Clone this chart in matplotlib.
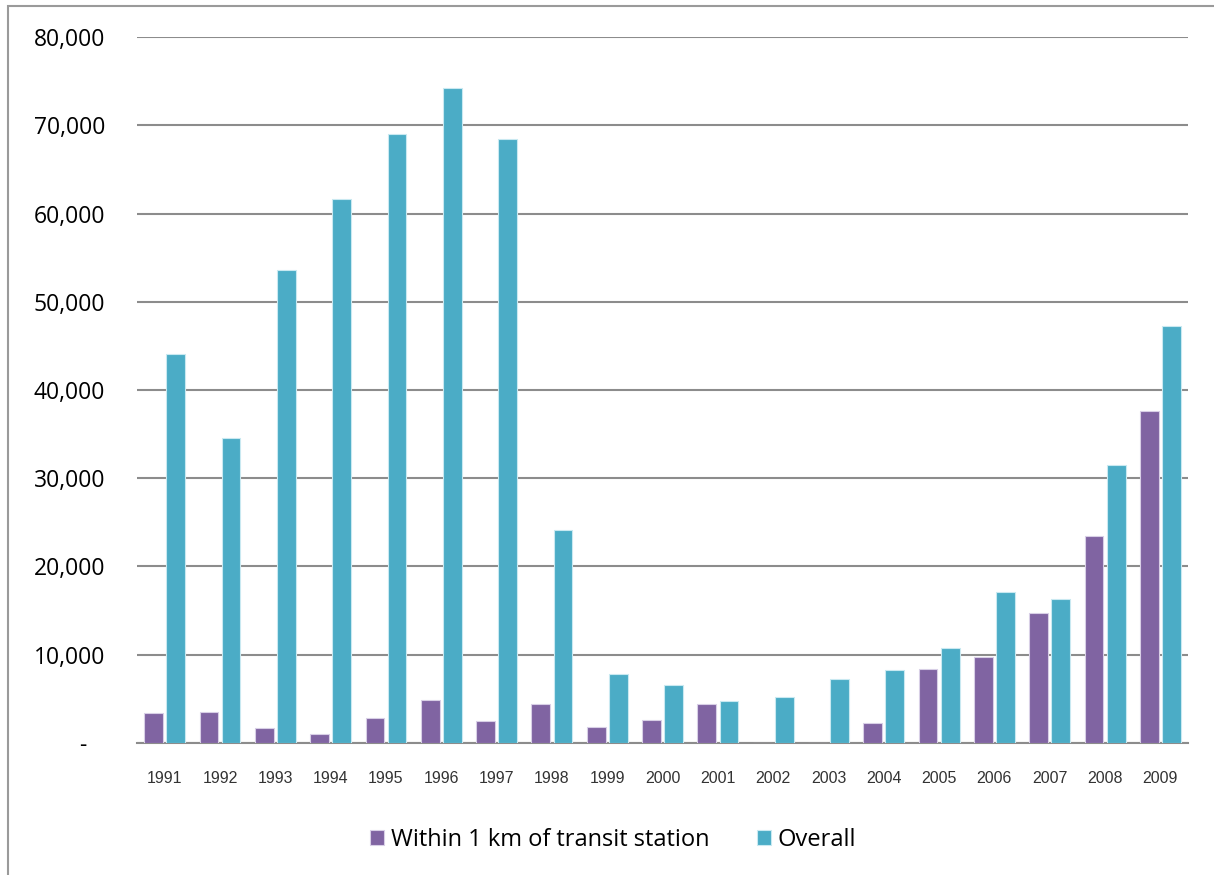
# bar chart: housing starts within 1 km of transit vs overall, 1991-2009
import numpy as np
import matplotlib.pyplot as plt
from matplotlib.patches import Rectangle
from matplotlib.ticker import FuncFormatter

years = ['1991', '1992', '1993', '1994', '1995', '1996', '1997', '1998', '1999', '2000',
         '2001', '2002', '2003', '2004', '2005', '2006', '2007', '2008', '2009']
within_1km = [3400, 3500, 1700, 1000, 2800, 4850, 2500, 4400, 1800, 2600,
              4400, 0, 0, 2250, 8400, 9750, 14750, 23450, 37600]
overall = [44100, 34550, 53600, 61650, 69000, 74200, 68400, 24150, 7800, 6600,
           4750, 5200, 7250, 8250, 10800, 17150, 16300, 31550, 47300]

PURPLE = '#8064A2'
TEAL = '#4BACC6'

fig = plt.figure(figsize=(12.14, 8.75), dpi=100)
ax = fig.add_axes([0.1129, 0.1509, 0.8657, 0.8068])

# outer chart frame (cut at right / bottom like the source)
fig.patches.append(Rectangle((8 / 1214, -0.1), 1.2, 1 - 6 / 875 + 0.1,
                             transform=fig.transFigure, fill=False,
                             edgecolor='#9a9a9a', linewidth=1.5))

x = np.arange(len(years))
w = 0.34
ax.bar(x - 0.2, within_1km, w, color=PURPLE, edgecolor='#d8cfe6', linewidth=0.8,
       label='Within 1 km of transit station', zorder=3)
ax.bar(x + 0.2, overall, w, color=TEAL, edgecolor='#c9e9f1', linewidth=0.8,
       label='Overall', zorder=3)

ax.set_xlim(-0.5, len(years) - 0.5)
ax.set_ylim(0, 80000)
ax.set_yticks(np.arange(0, 80001, 10000))
ax.yaxis.set_major_formatter(FuncFormatter(lambda v, p: '-   ' if v == 0 else f'{int(v):,}'))
ax.set_xticks(x)
ax.set_xticklabels(years)

ax.grid(axis='y', color='#8c8c8c', linewidth=1.5, zorder=0)
for s in ['top', 'right', 'left']:
    ax.spines[s].set_visible(False)
ax.spines['bottom'].set_color('#8c8c8c')
ax.spines['bottom'].set_linewidth(1.5)

ax.tick_params(axis='y', length=0, pad=23, labelsize=16.5)
ax.tick_params(axis='x', length=0, pad=20, labelsize=11.5, labelcolor='#333333')
for t in ax.get_yticklabels():
    t.set_fontfamily('Open Sans')
for t in ax.get_xticklabels():
    t.set_fontfamily('Liberation Sans')

leg = fig.legend(loc='center', bbox_to_anchor=(0.505, 1 - 840 / 875), ncol=2, frameon=False,
                 prop={'family': 'Open Sans', 'size': 17}, handlelength=0.6,
                 handleheight=0.6, handletextpad=0.3, columnspacing=2.0)

fig.savefig('out.png', dpi=100)
